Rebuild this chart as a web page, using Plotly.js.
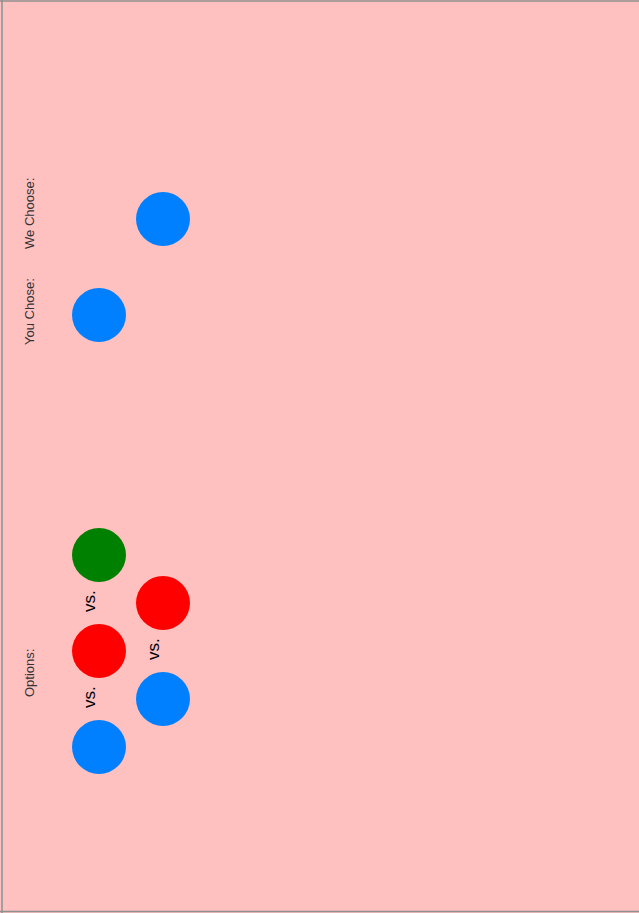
<!DOCTYPE html>
<html>
<head>
<meta charset="utf-8">
<script src="https://cdn.plot.ly/plotly-3.0.1.min.js"></script>
<style>html,body{margin:0;padding:0;background:#FFC0C0;overflow:hidden}</style>
</head>
<body>
<div id="chart" style="width:639px;height:913px"></div>
<script>
// Data: which option the game offered and which was chosen
const rowLabels = ["We Choose:", "You Chose:", "Options:"];
const weChoose = ["blue"];
const youChose = ["blue"];
const optionsA = ["green", "red", "blue"];
const optionsB = ["red", "blue"];
const vsText = "vs.";

const colorMap = { blue: "#0080FF", red: "#FF0000", green: "#008000" };

// slot layout (grid units)
const colA = 1, colB = 2;
const weSlot = 0, youSlot = 2, optStartA = 7, optStartB = 8, optStep = 2;

const slotsA = optionsA.map((_, i) => optStartA + i * optStep);
const slotsB = optionsB.map((_, i) => optStartB + i * optStep);

function markerTrace(xs, ys, cols) {
  return {
    type: "scatter", mode: "markers", x: xs, y: ys, hoverinfo: "skip",
    marker: { size: 54, color: cols.map(c => colorMap[c]), line: { width: 0 } },
    showlegend: false
  };
}

const traces = [
  markerTrace([colB], [weSlot], weChoose),
  markerTrace([colA], [youSlot], youChose),
  markerTrace(slotsA.map(() => colA), slotsA, optionsA),
  markerTrace(slotsB.map(() => colB), slotsB, optionsB)
];

const annotations = [];
// vs. between consecutive options
function addVs(col, slots) {
  for (let i = 0; i < slots.length - 1; i++) {
    annotations.push({
      x: col, y: (slots[i] + slots[i + 1]) / 2, xref: "x", yref: "y",
      text: vsText, showarrow: false, textangle: -90, xshift: -10, yshift: 2,
      font: { family: "Liberation Sans, Arial, sans-serif", size: 17, color: "#000000" }
    });
  }
}
addVs(colA, slotsA);
addVs(colB, slotsB);

const labelY = [weSlot, youSlot, (slotsA[0] + slotsA[slotsA.length - 1]) / 2];
const labelShift = [5, 3, -22];
rowLabels.forEach((t, i) => {
  annotations.push({
    x: colA, y: labelY[i], xref: "x", yref: "y", text: t, showarrow: false,
    textangle: -90, xshift: -70, yshift: labelShift[i],
    font: { family: "Liberation Sans, Arial, sans-serif", size: 13, color: "#333333" }
  });
});

const W = 639, H = 913, pxPerCol = 64, pxPerSlot = 48;
const colAPx = 99, slot0Px = 219;
const x0 = colA - colAPx / pxPerCol;
const yTop = weSlot - slot0Px / pxPerSlot;

const layout = {
  width: W, height: H,
  margin: { l: 0, r: 0, t: 0, b: 0, pad: 0 },
  paper_bgcolor: "#FFC0C0", plot_bgcolor: "#FFC0C0",
  xaxis: { range: [x0, x0 + W / pxPerCol], visible: false, fixedrange: true },
  yaxis: { range: [yTop + H / pxPerSlot, yTop], visible: false, fixedrange: true },
  annotations: annotations,
  shapes: [
    { type: "line", xref: "paper", yref: "paper", x0: 2 / W, x1: 2 / W, y0: 0, y1: 1, line: { color: "#A0A0A0", width: 2 } },
    { type: "line", xref: "paper", yref: "paper", x0: 0, x1: 1, y0: 1 - 1 / H, y1: 1 - 1 / H, line: { color: "#909090", width: 1.5 } },
    { type: "line", xref: "paper", yref: "paper", x0: 0, x1: 1, y0: 1.5 / H, y1: 1.5 / H, line: { color: "#909090", width: 1.5 } }
  ],
  showlegend: false,
  hovermode: false
};

Plotly.newPlot("chart", traces, layout, { displayModeBar: false, staticPlot: true });
</script>
</body>
</html>
